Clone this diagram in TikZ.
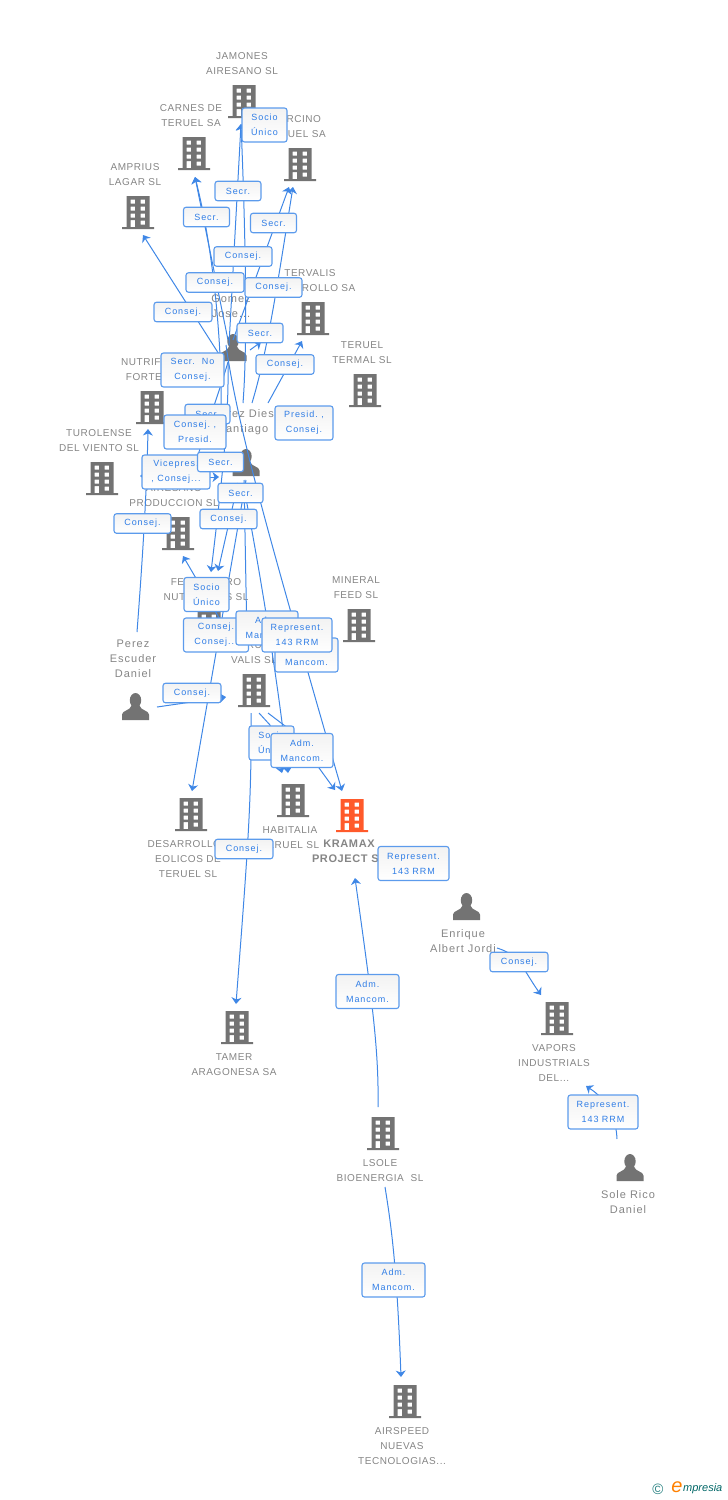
\documentclass[tikz,border=0pt]{standalone}
\usepackage{fontspec}
\usetikzlibrary{arrows.meta}
\setmainfont{Liberation Sans}
\newfontfamily\firmafont[LetterSpace=5.5]{Liberation Sans}
\newfontfamily\genteFont[LetterSpace=9]{Liberation Sans}
\newfontfamily\cargofont[LetterSpace=11]{Liberation Sans}
\definecolor{gris}{HTML}{737373}
\definecolor{textgris}{HTML}{858585}
\definecolor{naranja}{HTML}{FF5A2B}
\definecolor{azul}{HTML}{3F87E6}
\definecolor{azulborde}{HTML}{5C9BEC}
\definecolor{azultexto}{HTML}{2F7DE6}
\tikzset{
  edificio/.style={minimum width=33,minimum height=33,inner sep=0,path picture={
    \fill[#1,even odd rule]
      (-11.5,-16.5) rectangle (11.5,14.5) (-16,14.5) rectangle (16,16.5)
      (-7.3,-12.8) rectangle (-3,-8.8) (2.7,-12.8) rectangle (7,-8.8)
      (-7.3,-5.8) rectangle (-3,-1.8) (2.7,-5.8) rectangle (7,-1.8)
      (-7.3,1.2) rectangle (-3,5.2) (2.7,1.2) rectangle (7,5.2)
      (2.7,8.2) rectangle (7,12.2) (-7.3,7.5) rectangle (-3,14.5);}},
  persona/.style={minimum width=28,minimum height=27,inner sep=0,path picture={
    \fill[gris]
      (0,-6.2) ellipse (5.7 and 7.3)
      (-13.5,13.5) -- (-13.5,8) .. controls (-13.5,4) and (-5,4) .. (-4,-1) -- (4,-1)
      .. controls (5,4) and (13.5,4) .. (13.5,8) -- (13.5,13.5) -- cycle;}},
  firma/.style={text=textgris,align=center,inner sep=0,font=\firmafont\fontsize{10}{15}\selectfont},
  gente/.style={text=textgris,align=center,inner sep=0,font=\genteFont\fontsize{11}{15}\selectfont},
  cargo/.style={draw=azulborde,line width=1.1pt,rounded corners=2.5pt,top color=white!95!black,bottom color=white,
    text=azultexto,align=center,inner sep=0,minimum height=19.5,font=\cargofont\fontsize{9}{15}\selectfont},
  cargoii/.style={cargo,minimum height=34},
  enlace/.style={draw=azul,line width=1pt,-{Stealth[length=6.5pt,width=10pt,inset=2pt]}},
  tramo/.style={draw=azul,line width=1pt}
}
\begin{document}
\begin{tikzpicture}[x=1pt,y=-1pt]
  \useasboundingbox (0,0) rectangle (728,1500);

  % empresas
  \node[edificio=gris] (jamones) at (244,101.5) {};
  \node[edificio=gris] (carnes) at (194,153.5) {};
  \node[edificio=gris] (porcino) at (300,164.5) {};
  \node[edificio=gris] (amprius) at (138,212.5) {};
  \node[edificio=gris] (tervalis) at (313,318.5) {};
  \node[edificio=gris] (termal) at (365,390.5) {};
  \node[edificio=gris] (nutrifeed) at (152,407.5) {};
  \node[edificio=gris] (turolense) at (102,478.5) {};
  \node[edificio=gris] (airesano) at (178,533.5) {};
  \node[edificio=gris] (fertinagro) at (209,627.5) {};
  \node[edificio=gris] (mineral) at (359,625.5) {};
  \node[edificio=gris] (valis) at (254,690.5) {};
  \node[edificio=gris] (desarrollos) at (191,814.5) {};
  \node[edificio=gris] (habitalia) at (293,800.5) {};
  \node[edificio=naranja] (kramax) at (352,815.5) {};
  \node[edificio=gris] (tamer) at (237,1027.5) {};
  \node[edificio=gris] (vapors) at (557,1018.5) {};
  \node[edificio=gris] (lsole) at (383,1133.5) {};
  \node[edificio=gris] (airspeed) at (405,1401.5) {};

  % personas
  \node[persona] (gomez) at (233,347.5) {};
  \node[persona] (santiago) at (246,462.5) {};
  \node[persona] (perez) at (135.5,706.5) {};
  \node[persona] (enrique) at (466.5,906.5) {};
  \node[persona] (sole) at (630,1167.5) {};

  % textos
  \node[firma] (jamonesT) at (242,63.5) {JAMONES\\AIRESANO SL};
  \node[firma] (carnesT) at (191,115.5) {CARNES DE\\TERUEL SA};
  \node[firma] (porcinoT) at (296,126.5) {PORCINO\\TERUEL SA};
  \node[firma] (ampriusT) at (135,174.5) {AMPRIUS\\LAGAR SL};
  \node[firma] (tervalisT) at (310,280.5) {TERVALIS\\DESARROLLO SA};
  \node[firma] (termalT) at (362,352.5) {TERUEL\\TERMAL SL};
  \node[firma] (nutrifeedT) at (152,369.5) {NUTRIFEED\\FORTE SL};
  \node[firma] (turolenseT) at (99,440.5) {TUROLENSE\\DEL VIENTO SL};
  \node[firma] (airesanoT) at (174,495.5) {AIRESANO\\PRODUCCION SL};
  \node[firma] (fertinagroT) at (206,589.5) {FERTINAGRO\\NUTRIENTES SL};
  \node[firma] (mineralT) at (356,587.5) {MINERAL\\FEED SL};
  \node[firma] (valisT) at (254,652.5) {TERUEL\\VALIS SL};
  \node[firma] (desarrollosT) at (188,859) {DESARROLLOS\\EOLICOS DE\\TERUEL SL};
  \node[firma] (habitaliaT) at (290,837.5) {HABITALIA\\TERUEL SL};
  \node[firma,font=\firmafont\bfseries\fontsize{11}{15}\selectfont] (kramaxT) at (349,851.5) {KRAMAX\\PROJECT SL};
  \node[firma] (tamerT) at (234,1064.5) {TAMER\\ARAGONESA SA};
  \node[firma] (vaporsT) at (554,1063) {VAPORS\\INDUSTRIALS\\DEL...};
  \node[firma] (lsoleT) at (380,1170.5) {LSOLE\\BIOENERGIA~~SL};
  \node[firma] (airspeedT) at (402,1446) {AIRSPEED\\NUEVAS\\TECNOLOGIAS...};
  \node[gente] (gomezT) at (231,306.5) {Gomez\\Jose...};
  \node[gente] (santiagoT) at (243,422.5) {Perez Dies\\Santiago};
  \node[gente] (perezT) at (133,658.5) {Perez\\Escuder\\Daniel};
  \node[gente] (enriqueT) at (463,941) {Enrique\\Albert Jordi};
  \node[gente] (soleT) at (628,1202) {Sole Rico\\Daniel};

  % extremos
  \coordinate (tJam) at (241,124);
  \coordinate (tCar) at (195,177);
  \coordinate (tAmp) at (143,235);
  \coordinate (tPorA) at (289,187);
  \coordinate (tPorB) at (293,187);
  \coordinate (tTerv) at (261,342);
  \coordinate (tTerm) at (302,341);
  \coordinate (tNut) at (148,429);
  \coordinate (tTur) at (140,476);
  \coordinate (tProd) at (183,556);
  \coordinate (tMidA) at (192,477);
  \coordinate (tMidB) at (219,477);
  \coordinate (tFerA) at (211,572);
  \coordinate (tFerB) at (218,571);
  \coordinate (tDes) at (192,791);
  \coordinate (tVal) at (226,697);
  \coordinate (tHabA) at (282,773);
  \coordinate (tHabB) at (288,773);
  \coordinate (tKraA) at (335,790);
  \coordinate (tKraB) at (342,791);
  \coordinate (tKraC) at (355,878);
  \coordinate (tTam) at (236,1004);
  \coordinate (tVap) at (541,995);
  \coordinate (tVapS) at (586,1086);
  \coordinate (tAir) at (401,1377);
  \coordinate (sGomA) at (229,345);
  \coordinate (sGomB) at (228,340);
  \coordinate (sGomC) at (224,362);
  \coordinate (sGomD) at (233,340);
  \coordinate (sGomE) at (226,345);
  \coordinate (sGomF) at (228,362);
  \coordinate (sLabA) at (243,403);
  \coordinate (sLabB) at (252,403);
  \coordinate (sLabC) at (268,403);
  \coordinate (sLabD) at (221,405);
  \coordinate (sSanA) at (246,480);
  \coordinate (sSanB) at (238,483);
  \coordinate (sSanC) at (244,480);
  \coordinate (sSanD) at (243,483);
  \coordinate (eMancom) at (247,640);
  \coordinate (sPerez) at (157,707);
  \coordinate (sPerN) at (137,632);
  \coordinate (sValA) at (251,713);
  \coordinate (sValB) at (259,713);
  \coordinate (sValC) at (268,713);
  \coordinate (sLsoA) at (378,1107);
  \coordinate (sLsoB) at (385,1187);
  \coordinate (sEnr) at (497,948);
  \coordinate (sSol) at (617,1139);
  \coordinate (sPrd) at (232,640);
  \coordinate (sVic) at (208,477);
  \coordinate (sTur) at (150,476);
  \coordinate (sTrv) at (250,350);
  \coordinate (pVal) at (270,725);
  \coordinate (pKra) at (293,732);

  % enlaces
  \draw[enlace] (sGomA) -- (tJam);
  \draw[enlace] (sLabA) .. controls (248,340) and (245,220) .. (tJam);
  \draw[enlace] (sGomB) -- (tCar);
  \draw[enlace] (sLabD) .. controls (222,360) and (216,260) .. (tCar);
  \draw[enlace] (sGomC) -- (tAmp);
  \draw[enlace] (sGomD) -- (tPorA);
  \draw[enlace] (sLabB) .. controls (268,350) and (278,280) .. (tPorB);
  \draw[enlace] (sTrv) -- (tTerv);
  \draw[enlace] (sLabC) -- (tTerm);
  \draw[enlace] (sPerN) .. controls (144,540) and (147,480) .. (tNut);
  \draw[enlace] (sGomF) .. controls (220,390) and (200,445) .. (tMidA);
  \draw[enlace] (sGomF) .. controls (229,420) and (222,480) .. (tFerA);
  \draw[enlace] (sSanB) -- (tFerB);
  \draw[enlace] (sSanA) -- (tDes);
  \draw[enlace] (sVic) -- (tMidB);
  \draw[enlace] (sTur) -- (tTur);
  \draw[enlace] (sPrd) -- (tProd);
  \draw[enlace] (sPerez) -- (tVal);
  \draw[tramo] (sSanC) .. controls (245,530) and (246,590) .. (eMancom);
  \draw[enlace] (sSanD) .. controls (258,560) and (278,680) .. (tHabB);
  \draw[enlace] (sValB) -- (pVal) -- (tHabA);
  \draw[enlace] (sValC) -- (pKra) -- (tKraA);
  \draw[enlace] (sGomE) .. controls (238,430) and (270,540) .. (tKraB);
  \draw[enlace] (sValA) .. controls (252,800) and (247,860) .. (tTam);
  \draw[enlace] (sLsoA) .. controls (379,1050) and (372,1000) .. (tKraC);
  \draw[enlace] (sLsoB) .. controls (392,1230) and (397,1270) .. (tAir);
  \draw[enlace] (sEnr) .. controls (520,955) and (522,968) .. (tVap);
  \draw[enlace] (sSol) .. controls (616,1110) and (600,1095) .. (tVapS);

  % cargos
  \node[cargoii,minimum width=45] (c1) at (264.5,125) {Socio\\Único};
  \node[cargo,minimum width=46] (c2) at (238,191) {Secr.};
  \node[cargo,minimum width=46] (c3) at (206.5,217) {Secr.};
  \node[cargo,minimum width=46] (c4) at (273.5,223) {Secr.};
  \node[cargo,minimum width=58] (c5) at (243,256.5) {Consej.};
  \node[cargo,minimum width=58] (c6) at (215,282.5) {Consej.};
  \node[cargo,minimum width=57] (c7) at (273.5,287.5) {Consej.};
  \node[cargo,minimum width=58] (c8) at (183,312) {Consej.};
  \node[cargo,minimum width=46] (c9) at (260,333) {Secr.};
  \node[cargoii,minimum width=63] (c10) at (192.5,370) {Secr.~~No\\Consej.};
  \node[cargo,minimum width=58] (c11) at (285,364.5) {Consej.};
  \node[cargo,minimum width=45] (c12) at (207.5,414) {Secr.};
  \node[cargoii,minimum width=58] (c13) at (304,423) {Presid.~,\\Consej.};
  \node[cargoii,minimum width=62] (c14) at (195,432) {Consej.~,\\Presid.};
  \node[cargoii,minimum width=68] (c15) at (176,472) {Vicepres.\\, Consej...};
  \node[cargo,minimum width=46] (c16) at (220.5,462) {Secr.};
  \node[cargo,minimum width=45] (c17) at (240.5,493) {Secr.};
  \node[cargo,minimum width=57] (c18) at (228.5,519) {Consej.};
  \node[cargo,minimum width=57] (c19) at (142.5,523.5) {Consej.};
  \node[cargoii,minimum width=45] (c20) at (206.5,594.5) {Socio\\Único};
  \node[cargoii,minimum width=65] (c21) at (216,635) {Consej.\\Consej...};
  \node[cargoii,minimum width=63] (c22) at (306.5,655) {Adm.\\Mancom.};
  \node[cargoii,minimum width=62] (c23) at (267,628) {Adm.\\Mancom.};
  \node[cargoii,minimum width=70] (c24) at (297,635) {Represent.\\143 RRM};
  \node[cargo,minimum width=58] (c25) at (192,693) {Consej.};
  \node[cargoii,minimum width=45] (c26) at (271.5,743) {Socio\\Único};
  \node[cargoii,minimum width=62] (c27) at (302,750.5) {Adm.\\Mancom.};
  \node[cargo,minimum width=58] (c28) at (244,849) {Consej.};
  \node[cargoii,minimum width=71] (c29) at (413.5,863.5) {Represent.\\143 RRM};
  \node[cargoii,minimum width=63] (c30) at (367.5,991.5) {Adm.\\Mancom.};
  \node[cargo,minimum width=58] (c31) at (519,962) {Consej.};
  \node[cargoii,minimum width=70] (c32) at (603,1112) {Represent.\\143 RRM};
  \node[cargoii,minimum width=63] (c33) at (393.5,1280) {Adm.\\Mancom.};

  % marca
  \node[text=teal!70!gray,inner sep=0,font=\fontsize{15}{15}\selectfont] (copyr) at (658,1489) {©};
  \node[text=orange,inner sep=0,font=\itshape\fontsize{20}{20}\selectfont] (marcaE) at (677,1487) {e};
  \node[text=teal!80!black,inner sep=0,font=\itshape\fontsize{11}{11}\selectfont,anchor=west] (marca) at (683,1489) {mpresia};
\end{tikzpicture}
\end{document}
